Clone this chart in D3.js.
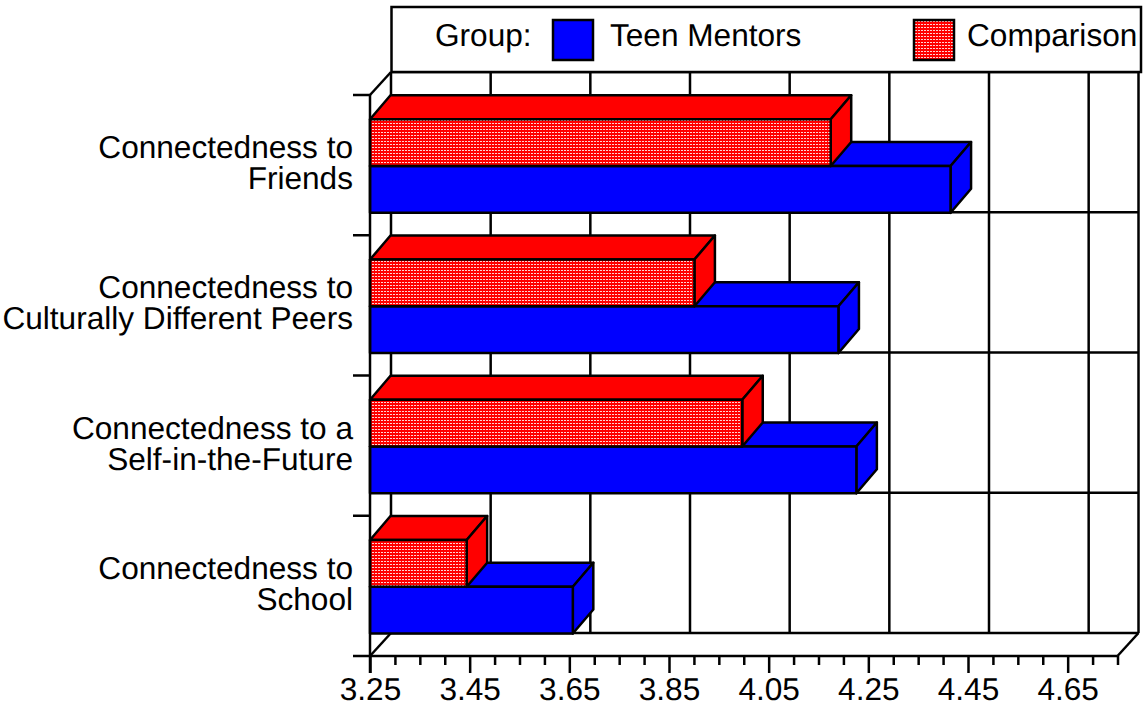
<!DOCTYPE html>
<html>
<head>
<meta charset="utf-8">
<script src="https://cdnjs.cloudflare.com/ajax/libs/d3/7.8.5/d3.min.js"></script>
<style>
  html, body { margin: 0; padding: 0; background: #fff; }
  svg { display: block; }
  text { font-family: "Liberation Sans", sans-serif; font-size: 31.6px; fill: #000; text-rendering: geometricPrecision; }
</style>
</head>
<body>
<script>
const categories = [
  ["Connectedness to", "Friends"],
  ["Connectedness to", "Culturally Different Peers"],
  ["Connectedness to a", "Self-in-the-Future"],
  ["Connectedness to", "School"]
]
const groups = ["Comparison", "Teen Mentors"]
const comparison = [4.1745, 3.901, 3.997, 3.444]
const teenMentors = [4.415, 4.19, 4.226, 3.657]
const majorTicks = [3.25, 3.45, 3.65, 3.85, 4.05, 4.25, 4.45, 4.65]
const minorTicks = [3.3, 3.35, 3.4, 3.5, 3.55, 3.6, 3.7, 3.75, 3.8, 3.9, 3.95, 4, 4.1, 4.15, 4.2, 4.3, 4.35, 4.4, 4.5, 4.55, 4.6, 4.7, 4.75]

const width = 1143, height = 708
const dx = 21, dy = -23 // depth of the 3d box
const barDx = 20.5, barDy = -24
const sw = 2.5

const x = d3.scaleLinear([3.25, 4.75], [370, 1117.5])
const y = d3.scaleBand(d3.range(categories.length), [95, 656])
const inner = d3.scaleBand(groups, [0, y.bandwidth()]).paddingInner(0).paddingOuter(0.5).align(0.52)

const color = { "Teen Mentors": "#0000ff", "Comparison": "#ff0000" }
const values = { "Teen Mentors": teenMentors, "Comparison": comparison }

const svg = d3.select("body").append("svg").attr("width", width).attr("height", height)

const pattern = svg.append("defs").append("pattern")
    .attr("id", "dots")
    .attr("patternUnits", "userSpaceOnUse")
    .attr("width", 3).attr("height", 3)
pattern.append("rect").attr("width", 3).attr("height", 3).attr("fill", "#ff0000")
pattern.append("rect").attr("width", 2).attr("height", 1).attr("fill", "#ffd4d4")

const line = (x1, y1, x2, y2) => svg.append("line")
    .attr("x1", x1).attr("y1", y1).attr("x2", x2).attr("y2", y2)
    .attr("stroke", "#000").attr("stroke-width", sw)

// back wall
const [x0, x1] = x.range()
const [y0, y1] = y.range()
line(x0 + dx, y0 + dy, x1 + dx, y0 + dy)
line(x0 + dx, y1 + dy, x1 + dx, y1 + dy)
line(x0 + dx, y0 + dy, x0 + dx, y1 + dy)
line(x1 + dx, y0 + dy, x1 + dx, y1 + dy)
majorTicks.slice(1).forEach(t => line(x(t) + dx, y0 + dy, x(t) + dx, y1 + dy))
y.domain().slice(1).forEach(i => line(x0 + dx, y(i) + dy, x1 + dx, y(i) + dy))

// side and floor edges
line(x0, y0, x0 + dx, y0 + dy)
line(x0, y1, x0 + dx, y1 + dy)
line(x1, y1, x1 + dx, y1 + dy)

// bars, back to front
function bar(i, group) {
  const v = values[group][i]
  const top = y(i) + inner(group), bot = top + inner.bandwidth()
  const g = svg.append("g").attr("stroke", "#000").attr("stroke-width", sw).attr("stroke-linejoin", "round")
  const poly = pts => g.append("polygon").attr("points", pts.join(" ")).attr("fill", color[group])
  poly([[x0, top], [x0 + barDx, top + barDy], [x(v) + barDx, top + barDy], [x(v), top]])
  poly([[x(v), top], [x(v) + barDx, top + barDy], [x(v) + barDx, bot + barDy], [x(v), bot]])
  g.append("rect")
      .attr("x", x0).attr("y", top)
      .attr("width", x(v) - x0).attr("height", bot - top)
      .attr("fill", group === "Comparison" ? "url(#dots)" : color[group])
}
categories.forEach((c, i) => {
  bar(i, "Teen Mentors")
  bar(i, "Comparison")
})

// x axis
const axisG = svg.append("g").attr("transform", `translate(0,${y1})`)
axisG.append("g")
    .call(d3.axisBottom(x).tickValues(minorTicks).tickSize(9).tickFormat("").tickSizeOuter(0))
axisG.append("g")
    .call(d3.axisBottom(x).tickValues(majorTicks).tickSize(17).tickSizeOuter(0).tickFormat(d3.format(".2f")))
axisG.selectAll(".domain").remove()
axisG.selectAll("line").attr("stroke", "#000").attr("stroke-width", sw)
axisG.selectAll("text").attr("y", 21).attr("dy", "0.72em")
axisG.selectAll("g").attr("font-size", null).attr("font-family", null)
line(353, y1, x1, y1)

// y axis
line(x0, y0, x0, y1 + 17)
y.domain().forEach(i => line(353, y(i), x0, y(i)))

const labels = svg.append("g").attr("text-anchor", "end")
categories.forEach((c, i) => {
  c.forEach((s, j) => labels.append("text")
      .attr("x", 353)
      .attr("y", y(i) + 63 + j * 31)
      .text(s))
})

// legend
svg.append("rect").attr("x", x0 + dx + 0.5).attr("y", 7)
    .attr("width", 749.5).attr("height", 65)
    .attr("fill", "#fff").attr("stroke", "#000").attr("stroke-width", sw)
svg.append("text").attr("x", 435).attr("y", 46).text("Group:")
const legendX = { "Teen Mentors": 553, "Comparison": 914 }
groups.forEach(g => {
  svg.append("rect").attr("x", legendX[g]).attr("y", 20)
      .attr("width", 40).attr("height", 40)
      .attr("fill", g === "Comparison" ? "url(#dots)" : color[g])
      .attr("stroke", "#000").attr("stroke-width", sw)
  svg.append("text").attr("x", legendX[g] + (g === "Comparison" ? 53 : 57)).attr("y", 46).text(g)
})
</script>
</body>
</html>
